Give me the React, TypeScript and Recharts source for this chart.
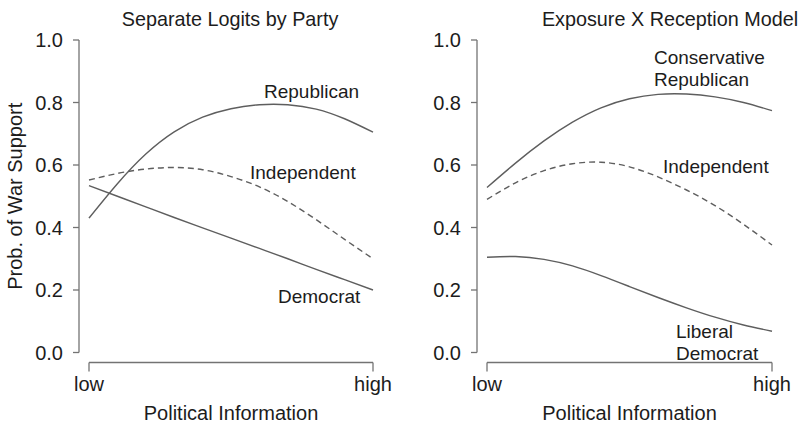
import { LineChart, Line, XAxis, YAxis } from 'recharts';

// political information, rescaled 0 (low) .. 1 (high)
const infoLevels = [0, 0.1, 0.2, 0.3, 0.4, 0.5, 0.6, 0.7, 0.8, 0.9, 1];
const infoTicks = [0, 1];
const infoTickLabels = ['low', 'high'];
const probTicks = [0, 0.2, 0.4, 0.6, 0.8, 1];

// separate logits by party
const logitRepublican = [0.43, 0.54, 0.635, 0.706, 0.753, 0.78, 0.793, 0.793, 0.779, 0.748, 0.705];
const logitIndependent = [0.552, 0.573, 0.587, 0.592, 0.585, 0.563, 0.53, 0.483, 0.425, 0.362, 0.3];
const logitDemocrat = [0.534, 0.5, 0.466, 0.432, 0.399, 0.366, 0.333, 0.3, 0.266, 0.233, 0.2];

// exposure x reception model
const modelConsRepublican = [0.528, 0.606, 0.677, 0.737, 0.783, 0.812, 0.826, 0.827, 0.818, 0.8, 0.774];
const modelIndependent = [0.49, 0.543, 0.582, 0.604, 0.609, 0.594, 0.562, 0.52, 0.47, 0.41, 0.344];
const modelLibDemocrat = [0.305, 0.307, 0.298, 0.277, 0.246, 0.211, 0.176, 0.143, 0.113, 0.088, 0.068];

const FONT = '"Liberation Sans", Arial, Helvetica, sans-serif';
const INK = '#1c1c1c';
const CURVE = '#5e5e5e';
const AXIS = '#737373';

const toRows = (top: number[], mid: number[], low: number[]) =>
  infoLevels.map((t, i) => ({ t, top: top[i], mid: mid[i], low: low[i] }));

const leftRows = toRows(logitRepublican, logitIndependent, logitDemocrat);
const rightRows = toRows(modelConsRepublican, modelIndependent, modelLibDemocrat);

type Note = { text: string; x: number; y: number };

interface PanelProps {
  rows: ReturnType<typeof toRows>;
  width: number;
  axisWidth: number;
  rightMargin: number;
  title: string;
  titleX: number;
  notes: Note[];
  yTitle?: string;
}

function Panel({ rows, width, axisWidth, rightMargin, title, titleX, notes, yTitle }: PanelProps) {
  const noteStyle = { fill: INK, fontSize: 19, fontFamily: FONT };
  const axisText = { ...noteStyle, fontSize: 20 };
  return (
    <LineChart width={width} height={424} data={rows} margin={{ top: 40, right: rightMargin, bottom: 0, left: 0 }}>
      <XAxis
        dataKey="t"
        type="number"
        domain={[0, 1]}
        ticks={infoTicks}
        interval={0}
        tickFormatter={(v: number) => infoTickLabels[infoTicks.indexOf(v)]}
        height={71.5}
        tickSize={9}
        tickMargin={15}
        tick={axisText}
        axisLine={{ stroke: AXIS, strokeWidth: 1.3, transform: 'translate(0,10)' }}
        tickLine={{ stroke: AXIS, strokeWidth: 1.3, transform: 'translate(0,10)' }}
        label={{ value: 'Political Information', position: 'insideBottom', offset: 4, ...axisText }}
      />
      <YAxis
        type="number"
        domain={[0, 1]}
        ticks={probTicks}
        interval={0}
        tickFormatter={(v: number) => v.toFixed(1)}
        width={axisWidth}
        tickSize={6}
        tickMargin={20}
        tick={axisText}
        axisLine={{ stroke: AXIS, strokeWidth: 1.3, transform: 'translate(-10,0)' }}
        tickLine={{ stroke: AXIS, strokeWidth: 1.3, transform: 'translate(-10,0)' }}
        label={
          yTitle
            ? { value: yTitle, angle: -90, position: 'insideLeft', offset: 15, ...axisText, style: { textAnchor: 'middle' } }
            : undefined
        }
      />
      <Line type="natural" dataKey="top" stroke={CURVE} strokeWidth={1.4} dot={false} isAnimationActive={false} />
      <Line type="natural" dataKey="mid" stroke={CURVE} strokeWidth={1.4} strokeDasharray="6 4" dot={false} isAnimationActive={false} />
      <Line type="natural" dataKey="low" stroke={CURVE} strokeWidth={1.4} dot={false} isAnimationActive={false} />
      <text x={titleX} y={26} textAnchor="middle" style={{ ...noteStyle, fontSize: 19.8 }}>
        {title}
      </text>
      {notes.map((n) => (
        <text key={n.text + n.y} x={n.x} y={n.y} style={noteStyle}>
          {n.text}
        </text>
      ))}
    </LineChart>
  );
}

export default function App() {
  return (
    <div style={{ position: 'absolute', left: 0, top: 0, width: 803, height: 424, background: '#fff', display: 'flex' }}>
      <Panel
        rows={leftRows}
        width={400}
        axisWidth={89}
        rightMargin={27}
        title="Separate Logits by Party"
        titleX={230}
        yTitle="Prob. of War Support"
        notes={[
          { text: 'Republican', x: 264, y: 98 },
          { text: 'Independent', x: 250, y: 179 },
          { text: 'Democrat', x: 278, y: 303 },
        ]}
      />
      <Panel
        rows={rightRows}
        width={403}
        axisWidth={87}
        rightMargin={31}
        title="Exposure X Reception Model"
        titleX={270}
        notes={[
          { text: 'Conservative', x: 254, y: 64 },
          { text: 'Republican', x: 254, y: 86 },
          { text: 'Independent', x: 263, y: 173 },
          { text: 'Liberal', x: 276, y: 338 },
          { text: 'Democrat', x: 276, y: 360 },
        ]}
      />
    </div>
  );
}
